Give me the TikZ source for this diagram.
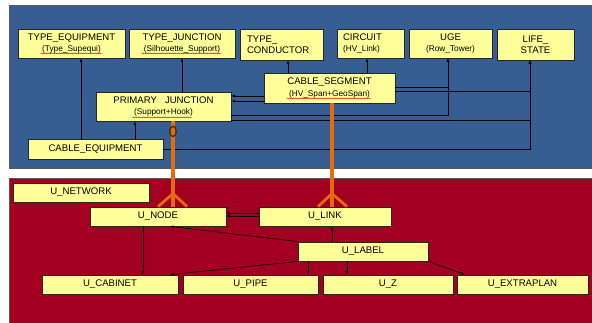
\documentclass[tikz,border=0pt]{standalone}
\usepackage{fontspec}
\setmainfont{Liberation Sans}
\usetikzlibrary{arrows.meta,decorations.pathmorphing,calc}
\definecolor{panelblue}{RGB}{55,94,146}
\definecolor{panelred}{RGB}{163,0,33}
\definecolor{boxyellow}{RGB}{255,255,153}
\definecolor{linkorange}{RGB}{228,108,10}
\definecolor{zerodark}{RGB}{70,45,10}
\newcommand{\subf}{\fontsize{8.3}{10}\selectfont}
\begin{document}
\begin{tikzpicture}[x=1pt,y=-1pt,
  box/.style={draw=black!85, line width=0.8pt, fill=boxyellow, inner sep=0pt, align=center,
    font=\fontsize{9.6}{11.5}\selectfont, text=black},
  lbox/.style={box, align=left},
  arr/.style={draw=black, line width=0.6pt, -{Latex[length=3.5pt,width=3pt]}},
  orangeline/.style={draw=linkorange, line width=3.4pt},
  crow/.style={draw=linkorange, line width=2.8pt},
  squig/.style={draw=red!85!black, line width=0.35pt, decorate,
    decoration={snake, amplitude=0.45pt, segment length=2pt}},
  panel/.style={draw=black!65, line width=0.8pt}]
\useasboundingbox (0,0) rectangle (592,322);
\clip (0,0) rectangle (592,322);
\fill[white] (0,0) rectangle (592,322);
% panels
\path[panel, fill=panelblue] (9,5) rectangle (600,168);
\path[panel, fill=panelred] (9,178) rectangle (600,330);

% top boxes
\node[box, minimum width=107pt, minimum height=29pt] (te) at (71.5,43.5) {TYPE\_EQUIPMENT\\{\subf (Type\_Supequi)}};
\node[box, minimum width=106pt, minimum height=29pt] (tj) at (182,43.5) {TYPE\_JUNCTION\\{\subf (Silhouette\_Support)}};
\node[lbox, text width=69pt, inner xsep=7pt, minimum height=31pt] (tc) at (281.5,44.5) {TYPE\_\\CONDUCTOR};
\node[lbox, text width=55pt, inner xsep=6pt, minimum height=29pt] (ci) at (370.5,43.5) {CIRCUIT\\{\subf (HV\_Link)}};
\node[box, minimum width=83pt, minimum height=29pt] (uge) at (450.5,43.5) {UGE\\{\subf (Row\_Tower)}};
\node[box, minimum width=77pt, minimum height=31pt] (ls) at (535.5,44.5) {LIFE\_\\STATE};
\node[box, minimum width=131pt, minimum height=30pt] (cs) at (329.5,88) {CABLE\_SEGMENT\\{\subf (HV\_Span+GeoSpan)}};
\node[box, minimum width=135pt, minimum height=29pt] (pj) at (163.5,106.5) {PRIMARY~~~JUNCTION\\{\subf (Support+Hook)}};
\node[box, minimum width=135pt, minimum height=20pt] (ce) at (95.5,149) {CABLE\_EQUIPMENT};

% bottom boxes
\node[box, minimum width=136pt, minimum height=19pt] (unet) at (81,192.5) {U\_NETWORK};
\node[box, minimum width=136pt, minimum height=19pt] (unode) at (158,216.5) {U\_NODE};
\node[box, minimum width=132pt, minimum height=19pt] (ulink) at (325,216.5) {U\_LINK};
\node[box, minimum width=130pt, minimum height=19pt] (ulabel) at (363,251.5) {U\_LABEL};
\node[box, minimum width=136pt, minimum height=19pt] (ucab) at (110,284.5) {U\_CABINET};
\node[box, minimum width=135pt, minimum height=19pt] (upipe) at (250.5,284.5) {U\_PIPE};
\node[box, minimum width=130pt, minimum height=19pt] (uz) at (388,284.5) {U\_Z};
\node[box, minimum width=131pt, minimum height=19pt] (uext) at (522.5,284.5) {U\_EXTRAPLAN};

% helper coordinates
\foreach \x in {81,135,182,288,367,448,530,173,332,143,170,308,347,465}
  \coordinate (X\x) at (\x,0);
\foreach \y in {87,91,96,101,115,120,149,213,216}
  \coordinate (Y\y) at (0,\y);

% top connectors
\draw[arr] (ce.north -| X81) -- (te.south -| X81);
\draw[arr] (ce.north -| X135) -- (pj.south -| X135);
\draw[arr] (pj.north -| X182) -- (tj.south -| X182);
\draw[arr] (cs.north -| X288) -- (tc.south -| X288);
\draw[arr] (cs.north -| X367) -- (ci.south -| X367);
\draw[arr] (cs.west |- Y96) -- (pj.east |- Y96);
\draw[arr] (cs.west |- Y101) -- (pj.east |- Y101);
\draw[arr] (cs.east |- Y87) -| (uge.south -| X448);
\draw[arr] (pj.east |- Y115) -| (uge.south -| X448);
\draw[arr] (cs.east |- Y91) -| (ls.south -| X530);
\draw[arr] (pj.east |- Y120) -| (ls.south -| X530);
\draw[arr] (ce.east |- Y149) -| (ls.south -| X530);

% bottom connectors
\draw[arr] (ulink.west |- Y213) -- (unode.east |- Y213);
\draw[arr] (ulink.west |- Y216) -- (unode.east |- Y216);
\draw[arr] (unode.south -| X143) -- (ucab.north -| X143);
\draw[arr] (ulabel.north west) -- (unode.south -| X170);
\draw[arr] (ulabel.south west) -- (ucab.north -| X170);
\draw[arr] (ulabel.north -| X332) -- (ulink.south -| X332);
\draw[arr] (ulabel.south -| X308) -- (upipe.north -| X308);
\draw[arr] (ulabel.south -| X347) -- (uz.north -| X347);
\draw[arr] (ulabel.south east) -- (uext.north -| X465);

% orange relationship lines
\coordinate (f1) at (unode.north -| X173);
\coordinate (f2) at (ulink.north -| X332);
\draw[orangeline] (pj.south -| X173) -- (f1);
\draw[orangeline] (cs.south -| X332) -- (f2);
\draw[crow, line join=round] ([xshift=-15pt]f1) -- ([yshift=13pt]f1) -- ([xshift=14pt]f1);
\draw[crow, line join=round] ([xshift=-14pt]f2) -- ([yshift=13pt]f2) -- ([xshift=15pt]f2);
\coordinate (zero) at ($(pj.south -| X173)+(0,10)$);
\draw[zerodark, line width=1.3pt] (zero) ellipse [x radius=3.3pt, y radius=5.2pt];

% spell-check squiggles
\draw[squig] ($(te.south west)+(23,-5)$) -- ($(te.south west)+(84,-5)$);
\draw[squig] ($(tj.south west)+(13,-5)$) -- ($(tj.south west)+(92,-5)$);
\draw[squig] ($(pj.south west)+(37,-4)$) -- ($(pj.south west)+(96,-4)$);
\draw[squig] ($(cs.south west)+(23,-5)$) -- ($(cs.south west)+(107,-5)$);
\end{tikzpicture}
\end{document}
